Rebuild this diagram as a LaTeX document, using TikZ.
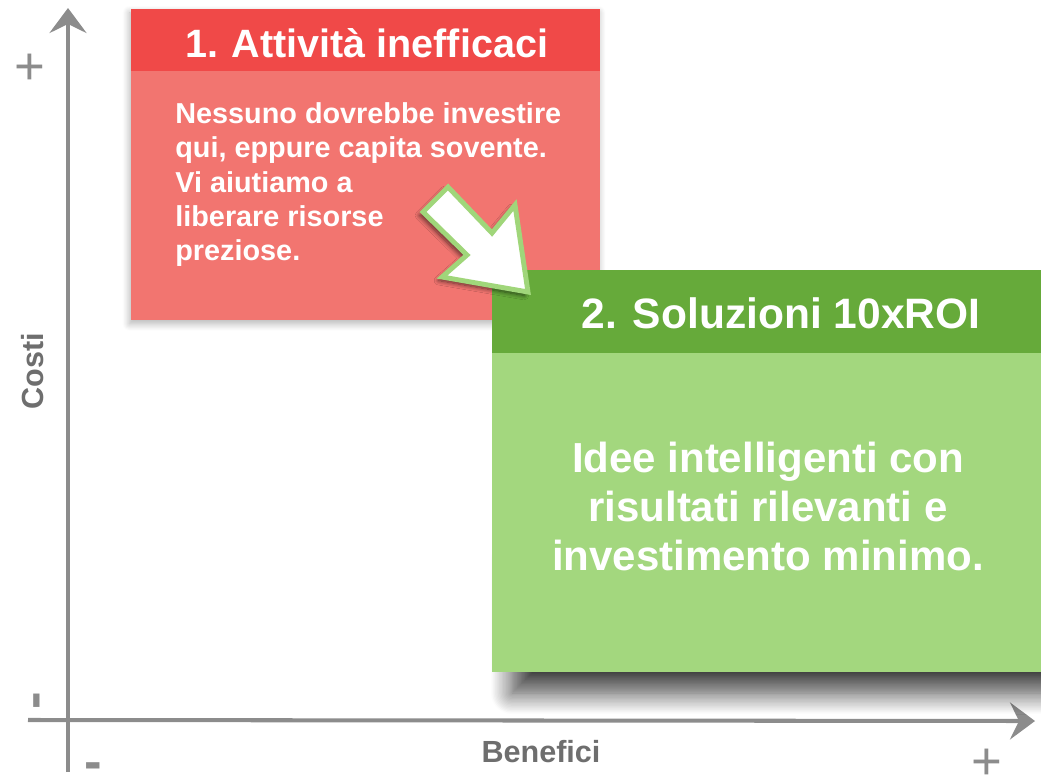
\documentclass[tikz,border=0pt]{standalone}
\usepackage{fontspec}
\setmainfont{Liberation Sans}
\usetikzlibrary{positioning,arrows.meta,shadows.blur}
\definecolor{redhead}{RGB}{240,73,72}
\definecolor{redbody}{RGB}{242,117,112}
\definecolor{greenhead}{RGB}{102,170,58}
\definecolor{greenbody}{RGB}{163,215,126}
\definecolor{arrowrim}{RGB}{160,214,122}
\definecolor{axisgray}{RGB}{140,140,140}
\definecolor{labelgray}{RGB}{110,110,110}

\begin{document}
\begin{tikzpicture}[x=0.02cm,y=-0.02cm,
    panel/.style={inner sep=0pt,anchor=north west},
    title/.style={text=white,anchor=base,inner sep=0pt,font=\bfseries\fontsize{22.5}{27}\selectfont},
    blurb/.style={text=white,inner sep=0pt,font=\bfseries\fontsize{16.4}{19.6}\selectfont},
    axis/.style={draw=axisgray,line width=2.3pt,-{Stealth[length=0.5cm,width=0.74cm,inset=0.18cm]}},
    axislabel/.style={text=labelgray,anchor=base,inner sep=0pt,font=\bfseries\fontsize{17.4}{20}\selectfont},
    sign/.style={text=axisgray,inner sep=0pt,font=\fontsize{30}{30}\selectfont},
    minus/.style={sign,font=\bfseries\fontsize{30}{30}\selectfont}]
\useasboundingbox (0,0) rectangle (1041,777);

\coordinate (yfoot) at (68,772);
\coordinate (ytip) at (68,8);
\coordinate (xfoot) at (28,720);
\coordinate (xtip) at (1035,721);
\draw[axis] (yfoot) -- (ytip);
\draw[axis] (xfoot) -- (xtip);

\node[sign] (ymax) at (30,69) {+};
\node[minus,rotate=90] (ymin) at (42,701) {-};
\node[minus] (xmin) at (93,771) {-};
\node[sign] (xmax) at (987,764) {+};
\node[axislabel,rotate=90] (costi) at (43,371) {Costi};
\node[axislabel] (benefici) at (541,762) {Benefici};

\node[panel,fill=redbody,minimum width=9.38cm,minimum height=6.22cm,
  blur shadow={shadow xshift=-1pt,shadow yshift=-2pt,shadow blur radius=4pt,shadow blur steps=10,shadow opacity=30}] (boxAttivita) at (131,9) {};
\node[panel,fill=redhead,minimum width=9.38cm,minimum height=1.24cm] (hdrAttivita) at (131,9) {};
\node[title] (ttlAttivita) at (367,58) {1.\kern-1pt{} Attività inefficaci};
\node[blurb,anchor=north west,align=left] (txtAttivita) at (175,102)
  {Nessuno dovrebbe investire\\qui, eppure capita sovente.\\Vi aiutiamo a\\liberare risorse\\preziose.};

\path[blur shadow={shadow xshift=0pt,shadow yshift=0pt,shadow blur radius=12pt,shadow blur steps=16,shadow opacity=75}] (512,560) rectangle (1090,693);
\node[panel,fill=greenbody,minimum width=10.98cm,minimum height=8.04cm] (boxSoluzioni) at (492,270) {};
\node[panel,fill=greenhead,minimum width=10.98cm,minimum height=1.66cm] (hdrSoluzioni) at (492,270) {};
\node[title,font=\bfseries\fontsize{24.2}{28}\selectfont] (ttlSoluzioni) at (781,328) {2. Soluzioni 10xROI};
\node[blurb,anchor=north,align=center,font=\bfseries\fontsize{23.9}{27.8}\selectfont] (txtSoluzioni) at (768,442)
  {Idee intelligenti con\\risultati rilevanti e\\investimento minimo.};

\filldraw[fill=white,draw=arrowrim,line width=2.8pt,line join=miter,
  blur shadow={shadow xshift=-2pt,shadow yshift=-2pt,shadow blur radius=2.5pt,shadow blur steps=8,shadow opacity=60}]
  (448,187) -- (492,233) -- (515,205) -- (528,292) -- (442,277) -- (467,255) -- (423,212) -- cycle;
\end{tikzpicture}
\end{document}
